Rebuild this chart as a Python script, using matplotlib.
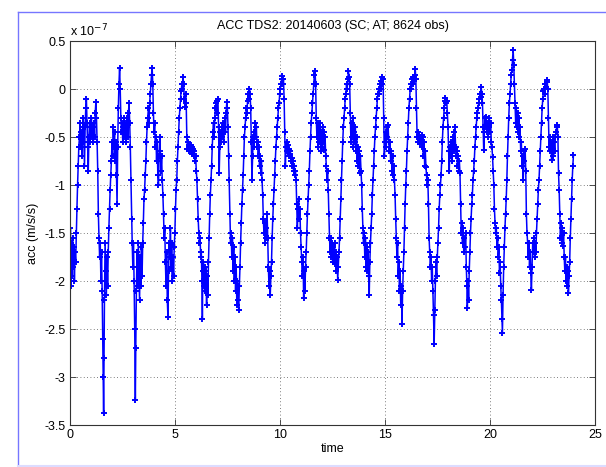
import matplotlib
matplotlib.use('Agg')
import matplotlib.pyplot as plt
from matplotlib.lines import Line2D
from matplotlib.ticker import FormatStrFormatter

plt.rcParams['font.family'] = ['Liberation Sans', 'DejaVu Sans']
plt.rcParams['axes.unicode_minus'] = False

# time (hours) and acceleration (units of 1e-7 m/s/s)
obs_time = [
    0.00, 0.02, 0.04, 0.06, 0.09, 0.12, 0.15, 0.18, 0.21, 0.24,
    0.27, 0.30, 0.33, 0.36, 0.39, 0.42, 0.45, 0.48, 0.51, 0.54,
    0.57, 0.60, 0.63, 0.66, 0.69, 0.72, 0.75, 0.78, 0.81, 0.84,
    0.87, 0.90, 0.93, 0.96, 0.99, 1.02, 1.05, 1.08, 1.11, 1.14,
    1.17, 1.20, 1.23, 1.26, 1.29, 1.32, 1.35, 1.38, 1.41, 1.44,
    1.47, 1.50, 1.53, 1.56, 1.58, 1.60, 1.62, 1.64, 1.67, 1.70,
    1.73, 1.76, 1.79, 1.82, 1.85, 1.88, 1.91, 1.94, 1.97, 2.00,
    2.03, 2.06, 2.09, 2.12, 2.15, 2.18, 2.21, 2.24, 2.27, 2.30,
    2.33, 2.36, 2.39, 2.42, 2.45, 2.48, 2.51, 2.54, 2.57, 2.60,
    2.63, 2.66, 2.69, 2.72, 2.75, 2.78, 2.81, 2.84, 2.87, 2.90,
    2.93, 2.96, 2.99, 3.02, 3.05, 3.08, 3.11, 3.13, 3.16, 3.19,
    3.22, 3.25, 3.28, 3.31, 3.34, 3.37, 3.40, 3.43, 3.46, 3.49,
    3.52, 3.55, 3.58, 3.61, 3.64, 3.67, 3.70, 3.73, 3.76, 3.79,
    3.82, 3.85, 3.88, 3.91, 3.94, 3.97, 4.00, 4.03, 4.06, 4.09,
    4.12, 4.15, 4.18, 4.21, 4.24, 4.27, 4.30, 4.33, 4.36, 4.39,
    4.42, 4.45, 4.48, 4.51, 4.54, 4.57, 4.60, 4.63, 4.66, 4.69,
    4.72, 4.75, 4.78, 4.81, 4.84, 4.87, 4.90, 4.93, 4.96, 4.99,
    5.02, 5.05, 5.08, 5.11, 5.14, 5.17, 5.20, 5.23, 5.26, 5.29,
    5.32, 5.35, 5.38, 5.41, 5.44, 5.47, 5.50, 5.53, 5.56, 5.59,
    5.62, 5.65, 5.68, 5.71, 5.74, 5.77, 5.80, 5.83, 5.86, 5.89,
    5.92, 5.95, 5.98, 6.01, 6.04, 6.07, 6.10, 6.13, 6.16, 6.19,
    6.22, 6.25, 6.28, 6.30, 6.32, 6.35, 6.38, 6.41, 6.44, 6.47,
    6.50, 6.53, 6.56, 6.59, 6.62, 6.65, 6.68, 6.71, 6.74, 6.77,
    6.80, 6.83, 6.86, 6.89, 6.92, 6.95, 6.98, 7.01, 7.04, 7.07,
    7.10, 7.13, 7.16, 7.19, 7.22, 7.25, 7.28, 7.31, 7.34, 7.37,
    7.40, 7.43, 7.46, 7.49, 7.52, 7.55, 7.58, 7.61, 7.64, 7.67,
    7.70, 7.73, 7.76, 7.79, 7.82, 7.85, 7.88, 7.91, 7.94, 7.97,
    8.00, 8.03, 8.06, 8.09, 8.12, 8.15, 8.18, 8.21, 8.24, 8.27,
    8.30, 8.33, 8.36, 8.39, 8.42, 8.45, 8.48, 8.51, 8.54, 8.57,
    8.60, 8.63, 8.66, 8.69, 8.72, 8.75, 8.78, 8.81, 8.84, 8.87,
    8.90, 8.93, 8.96, 8.99, 9.02, 9.05, 9.08, 9.11, 9.14, 9.17,
    9.20, 9.23, 9.26, 9.29, 9.32, 9.35, 9.38, 9.41, 9.44, 9.47,
    9.50, 9.53, 9.56, 9.59, 9.62, 9.65, 9.68, 9.71, 9.74, 9.77,
    9.80, 9.83, 9.86, 9.89, 9.92, 9.95, 9.98, 10.01, 10.04, 10.07,
    10.10, 10.13, 10.16, 10.19, 10.22, 10.25, 10.28, 10.31, 10.34, 10.37,
    10.40, 10.43, 10.46, 10.49, 10.52, 10.55, 10.58, 10.61, 10.64, 10.67,
    10.70, 10.73, 10.76, 10.79, 10.82, 10.85, 10.88, 10.91, 10.94, 10.97,
    11.00, 11.03, 11.06, 11.09, 11.12, 11.15, 11.18, 11.21, 11.24, 11.27,
    11.30, 11.33, 11.36, 11.39, 11.42, 11.45, 11.48, 11.51, 11.54, 11.57,
    11.60, 11.63, 11.66, 11.69, 11.72, 11.75, 11.78, 11.81, 11.84, 11.87,
    11.90, 11.93, 11.96, 11.99, 12.02, 12.05, 12.08, 12.11, 12.14, 12.17,
    12.20, 12.23, 12.26, 12.29, 12.32, 12.35, 12.38, 12.41, 12.44, 12.47,
    12.50, 12.53, 12.56, 12.59, 12.62, 12.65, 12.68, 12.71, 12.74, 12.77,
    12.80, 12.83, 12.86, 12.89, 12.92, 12.95, 12.98, 13.01, 13.04, 13.07,
    13.10, 13.13, 13.16, 13.19, 13.22, 13.25, 13.28, 13.31, 13.34, 13.37,
    13.40, 13.43, 13.46, 13.49, 13.52, 13.55, 13.58, 13.61, 13.64, 13.67,
    13.70, 13.73, 13.76, 13.79, 13.82, 13.85, 13.88, 13.91, 13.94, 13.97,
    14.00, 14.03, 14.06, 14.09, 14.12, 14.15, 14.18, 14.21, 14.24, 14.27,
    14.30, 14.33, 14.36, 14.39, 14.42, 14.45, 14.48, 14.51, 14.54, 14.57,
    14.60, 14.63, 14.66, 14.69, 14.72, 14.75, 14.78, 14.81, 14.84, 14.87,
    14.90, 14.93, 14.96, 14.99, 15.02, 15.05, 15.08, 15.11, 15.14, 15.17,
    15.20, 15.23, 15.26, 15.29, 15.32, 15.35, 15.38, 15.41, 15.44, 15.47,
    15.50, 15.53, 15.56, 15.59, 15.62, 15.65, 15.68, 15.71, 15.74, 15.77,
    15.80, 15.83, 15.86, 15.89, 15.92, 15.95, 15.98, 16.01, 16.04, 16.07,
    16.10, 16.13, 16.16, 16.19, 16.22, 16.25, 16.28, 16.31, 16.34, 16.37,
    16.40, 16.43, 16.46, 16.49, 16.52, 16.55, 16.58, 16.61, 16.64, 16.67,
    16.70, 16.73, 16.76, 16.79, 16.82, 16.85, 16.88, 16.91, 16.94, 16.97,
    17.00, 17.03, 17.06, 17.09, 17.12, 17.15, 17.18, 17.21, 17.24, 17.27,
    17.30, 17.33, 17.36, 17.39, 17.42, 17.45, 17.48, 17.51, 17.54, 17.57,
    17.60, 17.63, 17.66, 17.69, 17.72, 17.75, 17.78, 17.81, 17.84, 17.87,
    17.90, 17.93, 17.96, 17.99, 18.02, 18.05, 18.08, 18.11, 18.14, 18.17,
    18.20, 18.23, 18.26, 18.29, 18.32, 18.35, 18.38, 18.41, 18.44, 18.47,
    18.50, 18.53, 18.56, 18.59, 18.62, 18.65, 18.68, 18.71, 18.74, 18.77,
    18.80, 18.83, 18.86, 18.89, 18.91, 18.94, 18.97, 19.00, 19.03, 19.06,
    19.09, 19.12, 19.15, 19.18, 19.21, 19.24, 19.27, 19.30, 19.33, 19.36,
    19.39, 19.42, 19.45, 19.48, 19.51, 19.54, 19.57, 19.60, 19.63, 19.66,
    19.69, 19.72, 19.75, 19.78, 19.81, 19.84, 19.87, 19.90, 19.93, 19.96,
    19.99, 20.02, 20.05, 20.08, 20.11, 20.14, 20.17, 20.20, 20.23, 20.26,
    20.29, 20.32, 20.35, 20.38, 20.41, 20.44, 20.47, 20.50, 20.53, 20.56,
    20.58, 20.61, 20.64, 20.67, 20.70, 20.73, 20.76, 20.79, 20.82, 20.85,
    20.88, 20.91, 20.94, 20.97, 21.00, 21.03, 21.06, 21.09, 21.12, 21.15,
    21.18, 21.21, 21.24, 21.27, 21.30, 21.33, 21.36, 21.39, 21.42, 21.45,
    21.48, 21.51, 21.54, 21.57, 21.60, 21.63, 21.66, 21.69, 21.72, 21.75,
    21.78, 21.81, 21.84, 21.87, 21.90, 21.93, 21.96, 21.99, 22.02, 22.05,
    22.08, 22.11, 22.14, 22.17, 22.20, 22.23, 22.26, 22.29, 22.32, 22.35,
    22.38, 22.41, 22.44, 22.47, 22.50, 22.53, 22.56, 22.59, 22.62, 22.65,
    22.68, 22.71, 22.74, 22.77, 22.80, 22.83, 22.86, 22.89, 22.92, 22.95,
    22.98, 23.01, 23.04, 23.07, 23.10, 23.13, 23.16, 23.19, 23.22, 23.25,
    23.28, 23.31, 23.34, 23.37, 23.40, 23.43, 23.46, 23.49, 23.52, 23.55,
    23.58, 23.61, 23.64, 23.67, 23.70, 23.72, 23.75, 23.78, 23.81, 23.84,
    23.87, 23.90, 23.93, 23.96,
]

obs_acc = [
    -1.90, -1.45, -2.05, -1.60, -1.95, -1.55, -1.85, -1.65, -2.00, -1.70,
    -1.80, -1.50, -1.25, -1.00, -0.80, -0.60, -0.50, -0.35, -0.60, -0.45,
    -0.70, -0.40, -0.30, -0.55, -0.80, -0.40, -0.20, -0.10, -0.35, -0.60,
    -0.85, -0.50, -0.35, -0.55, -0.40, -0.30, -0.50, -0.40, -0.55, -0.35,
    -0.50, -0.25, -0.14, -0.30, -0.55, -0.85, -1.30, -1.55, -1.75, -1.60,
    -2.00, -1.70, -2.10, -2.60, -3.00, -3.38, -2.80, -2.20, -1.60, -1.90,
    -2.15, -1.75, -2.05, -1.70, -1.45, -1.25, -1.05, -0.90, -0.75, -0.55,
    -0.70, -0.40, -0.60, -0.45, -0.75, -0.55, -0.90, -1.20, -0.60, -0.20,
    0.05, 0.22, 0.00, -0.30, -0.45, -0.35, -0.55, -0.40, -0.30, -0.50,
    -0.35, -0.55, -0.40, -0.30, -0.50, -0.25, -0.15, -0.35, -0.60, -0.95,
    -1.35, -1.60, -1.85, -1.60, -2.00, -2.50, -3.24, -2.70, -2.10, -1.70,
    -2.05, -1.60, -1.90, -2.20, -1.75, -2.05, -1.65, -1.95, -1.60, -1.40,
    -1.15, -1.05, -0.90, -0.75, -0.55, -0.40, -0.30, -0.20, -0.35, -0.15,
    -0.05, 0.05, 0.15, 0.22, 0.05, -0.25, -0.45, -0.35, -0.60, -0.50,
    -0.75, -0.55, -0.90, -1.00, -0.70, -0.50, -0.65, -0.85, -0.70, -0.95,
    -1.10, -1.30, -1.55, -1.45, -1.80, -2.05, -1.70, -2.20, -2.37, -1.90,
    -1.60, -1.75, -1.45, -1.85, -1.60, -2.00, -1.75, -1.95, -1.65, -1.50,
    -1.25, -1.05, -0.95, -0.75, -0.60, -0.45, -0.30, -0.20, -0.10, -0.02,
    0.05, 0.00, 0.12, 0.05, -0.10, -0.19, -0.05, -0.15, -0.50, -0.62,
    -0.55, -0.65, -0.58, -0.62, -0.58, -0.65, -0.60, -0.68, -0.62, -0.70,
    -0.65, -0.75, -0.70, -0.85, -0.95, -1.15, -1.35, -1.50, -1.60, -1.55,
    -1.75, -1.70, -2.00, -2.40, -1.90, -1.80, -2.05, -1.85, -2.10, -1.90,
    -2.25, -1.95, -2.15, -1.80, -1.55, -1.30, -1.10, -0.95, -0.80, -0.60,
    -0.45, -0.35, -0.50, -0.30, -0.20, -0.15, -0.25, -0.12, -0.10, -0.40,
    -0.88, -0.60, -0.45, -0.55, -0.40, -0.50, -0.35, -0.55, -0.40, -0.30,
    -0.45, -0.25, -0.14, -0.20, -0.40, -0.70, -0.95, -1.30, -1.60, -1.50,
    -1.75, -1.55, -1.90, -1.65, -2.00, -1.75, -2.10, -1.85, -2.25, -2.00,
    -2.20, -2.30, -2.05, -1.85, -1.60, -1.40, -1.20, -1.05, -0.90, -0.70,
    -0.50, -0.40, -0.30, -0.20, -0.25, -0.12, -0.05, -0.10, 0.00, -0.05,
    -0.20, -0.55, -0.95, -0.70, -0.50, -0.60, -0.45, -0.35, -0.50, -0.40,
    -0.60, -0.55, -0.70, -0.60, -0.80, -0.70, -0.88, -0.75, -0.95, -1.10,
    -1.35, -1.50, -1.40, -1.60, -1.45, -1.55, -1.30, -1.55, -1.85, -2.05,
    -1.90, -2.15, -1.95, -1.80, -1.55, -1.35, -1.20, -1.05, -0.90, -0.75,
    -0.60, -0.50, -0.40, -0.30, -0.20, -0.15, -0.05, 0.00, 0.05, 0.10,
    0.14, 0.05, 0.10, -0.10, -0.45, -0.80, -0.60, -0.55, -0.65, -0.58,
    -0.70, -0.62, -0.68, -0.65, -0.75, -0.72, -0.80, -0.75, -0.85, -0.80,
    -0.90, -0.85, -0.95, -1.20, -1.45, -1.25, -1.15, -1.35, -1.25, -1.50,
    -1.65, -1.80, -1.95, -1.75, -2.18, -1.90, -2.10, -1.85, -1.70, -1.50,
    -1.30, -1.15, -1.00, -0.85, -0.65, -0.50, -0.35, -0.25, -0.15, -0.05,
    0.05, 0.15, 0.19, 0.05, -0.30, -0.50, -0.35, -0.60, -0.40, -0.55,
    -0.35, -0.65, -0.45, -0.60, -0.40, -0.55, -0.45, -0.64, -0.50, -0.70,
    -0.80, -0.95, -0.85, -1.05, -1.30, -1.55, -1.70, -1.55, -1.75, -1.60,
    -1.80, -1.65, -1.75, -1.60, -1.82, -1.70, -1.90, -1.75, -1.99, -1.85,
    -1.70, -1.55, -1.35, -1.15, -0.95, -0.75, -0.55, -0.40, -0.30, -0.20,
    -0.10, -0.05, 0.05, 0.00, 0.10, 0.19, 0.12, 0.05, -0.25, -0.55,
    -0.35, -0.50, -0.30, -0.60, -0.45, -0.55, -0.40, -0.65, -0.50, -0.75,
    -0.60, -0.80, -0.65, -0.88, -0.70, -0.85, -1.00, -1.25, -1.45, -1.60,
    -1.50, -1.75, -1.55, -1.85, -1.65, -1.90, -1.70, -1.95, -2.15, -1.80,
    -1.60, -1.45, -1.30, -1.10, -0.95, -0.80, -0.65, -0.50, -0.40, -0.30,
    -0.20, -0.10, -0.05, 0.00, -0.05, 0.05, 0.00, 0.08, 0.12, 0.05,
    0.10, -0.30, -0.70, -0.55, -0.45, -0.60, -0.50, -0.40, -0.38, -0.55,
    -0.65, -0.55, -0.75, -0.65, -0.85, -0.70, -0.90, -0.80, -0.95, -1.10,
    -1.35, -1.55, -1.75, -1.60, -1.95, -1.80, -2.10, -1.90, -2.25, -2.05,
    -2.45, -2.10, -1.90, -1.70, -1.45, -1.20, -1.00, -0.85, -0.65, -0.50,
    -0.35, -0.20, -0.10, 0.00, 0.05, 0.00, 0.10, 0.05, 0.12, 0.08,
    0.15, 0.21, 0.10, -0.20, -0.50, -0.45, -0.55, -0.48, -0.57, -0.50,
    -0.55, -0.48, -0.60, -0.50, -0.70, -0.55, -0.80, -0.65, -0.81, -0.90,
    -1.00, -0.95, -1.20, -1.55, -1.70, -1.85, -1.75, -2.00, -1.85, -2.10,
    -2.35, -2.66, -2.30, -2.00, -1.80, -1.95, -1.75, -1.60, -1.45, -1.25,
    -1.10, -1.00, -0.90, -0.75, -0.55, -0.40, -0.30, -0.20, -0.12, -0.09,
    -0.15, -0.12, -0.25, -0.40, -0.65, -0.85, -0.60, -0.70, -0.55, -0.75,
    -0.60, -0.50, -0.65, -0.45, -0.40, -0.60, -0.70, -0.65, -0.80, -0.70,
    -0.85, -0.75, -0.88, -1.20, -1.50, -1.40, -1.60, -1.45, -1.70, -1.55,
    -1.65, -1.50, -1.85, -2.05, -2.28, -2.00, -2.20, -1.90, -1.70, -1.50,
    -1.35, -1.20, -1.10, -0.95, -0.85, -0.75, -0.60, -0.50, -0.40, -0.30,
    -0.25, -0.20, -0.15, -0.10, -0.05, -0.08, 0.02, -0.05, -0.15, -0.40,
    -0.64, -0.45, -0.30, -0.40, -0.29, -0.45, -0.35, -0.50, -0.40, -0.30,
    -0.45, -0.35, -0.55, -0.60, -0.71, -0.85, -1.00, -1.25, -1.40, -1.50,
    -1.45, -1.65, -1.55, -1.75, -1.65, -1.92, -1.80, -2.05, -2.20, -2.40,
    -2.54, -2.15, -1.85, -1.65, -1.45, -1.30, -1.15, -0.95, -0.70, -0.50,
    -0.30, -0.15, -0.05, 0.05, 0.15, 0.20, 0.30, 0.41, 0.25, 0.05,
    -0.15, -0.35, -0.20, -0.40, -0.25, -0.45, -0.30, -0.50, -0.40, -0.65,
    -0.55, -0.80, -0.70, -0.95, -0.75, -0.65, -0.62, -0.85, -1.30, -1.50,
    -1.60, -1.75, -1.60, -1.85, -1.70, -1.92, -2.09, -1.85, -1.60, -1.70,
    -1.55, -1.75, -1.60, -1.70, -1.50, -1.35, -1.20, -1.05, -0.95, -0.80,
    -0.65, -0.50, -0.35, -0.20, -0.10, -0.02, 0.00, -0.05, 0.05, 0.02,
    0.07, 0.09, 0.00, -0.30, -0.60, -0.50, -0.65, -0.55, -0.74, -0.60,
    -0.50, -0.70, -0.55, -0.65, -0.50, -0.45, -0.40, -0.38, -0.50, -0.88,
    -1.05, -1.30, -1.55, -1.40, -1.60, -1.45, -1.64, -1.50, -1.75, -1.90,
    -1.75, -2.00, -1.85, -2.05, -1.90, -2.13, -1.95, -1.80, -1.55, -1.35,
    -1.15, -0.95, -0.80, -0.69,
]

x_ticks = [0, 5, 10, 15, 20, 25]
y_ticks = [-3.5, -3, -2.5, -2, -1.5, -1, -0.5, 0, 0.5]
n_obs = 8624

fig = plt.figure(figsize=(6.06, 4.67), dpi=100)
ax = fig.add_axes([70 / 606, 42 / 467, 525.3 / 606, 384 / 467])

ax.plot(obs_time, obs_acc, '-', color='#0000ff', lw=1.1,
        marker='+', ms=4.5, mew=1.4)

ax.set_xlim(0, 25)
ax.set_ylim(-3.5, 0.5)
ax.set_xticks(x_ticks)
ax.set_yticks(y_ticks)
ax.yaxis.set_major_formatter(FormatStrFormatter('%g'))
ax.tick_params(direction='in', top=True, right=True, length=4,
               labelsize=9, width=0.6, color='#333333', pad=3)
for s in ax.spines.values():
    s.set_color('#333333')
    s.set_linewidth(0.8)
ax.grid(True, linestyle=(0, (1, 3)), color='#555555', linewidth=0.6)

ax.set_title('ACC TDS2: 20140603 (SC; AT; %d obs)' % n_obs, fontsize=9, pad=9)
ax.set_xlabel('time', fontsize=9, labelpad=1)
ax.set_ylabel('acc (m/s/s)', fontsize=9, labelpad=4)
ax.text(0.0, 1.004, r'x 10$^{-7}$', transform=ax.transAxes,
        fontsize=9, ha='left', va='bottom')

# window frame
fig.add_artist(Line2D([18 / 606, 1.0], [1 - 12 / 467, 1 - 12 / 467],
                      transform=fig.transFigure, color='#7676ff', lw=1))
fig.add_artist(Line2D([18 / 606, 18 / 606], [0, 1 - 12 / 467],
                      transform=fig.transFigure, color='#7676ff', lw=1))
fig.add_artist(Line2D([18 / 606, 1.0], [1.5 / 467, 1.5 / 467],
                      transform=fig.transFigure, color='#dcdcff', lw=1.5))

fig.savefig('out.png', dpi=100)
